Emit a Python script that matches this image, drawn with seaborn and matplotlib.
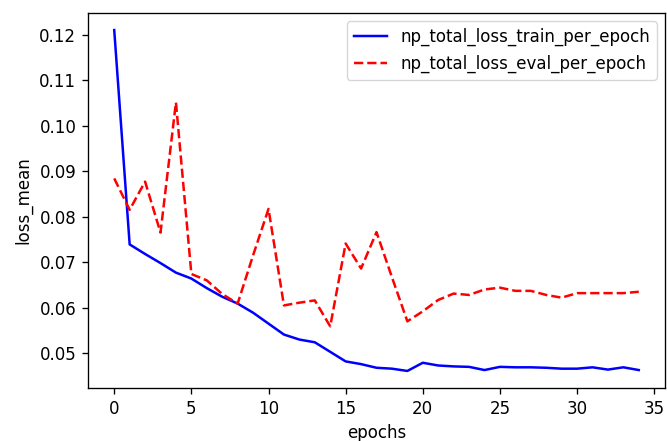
import matplotlib
matplotlib.use("Agg")
import matplotlib.pyplot as plt
import seaborn as sns
import numpy as np

epochs = list(range(35))
train_loss = [0.121, 0.0739, 0.0718, 0.0698, 0.0677, 0.0664, 0.0643, 0.0624, 0.0609, 0.0589,
              0.0565, 0.0541, 0.0530, 0.0524, 0.0503, 0.0482, 0.0476, 0.0468, 0.0466, 0.0461,
              0.0479, 0.0473, 0.0471, 0.0470, 0.0463, 0.0470, 0.0469, 0.0469, 0.0468, 0.0466,
              0.0466, 0.0469, 0.0464, 0.0469, 0.0463]
eval_loss = [0.0884, 0.0815, 0.0877, 0.0765, 0.1051, 0.0674, 0.0660, 0.0630, 0.0609, 0.0715,
             0.0817, 0.0605, 0.0611, 0.0616, 0.0559, 0.0741, 0.0686, 0.0766, 0.0667, 0.0570,
             0.0592, 0.0617, 0.0631, 0.0628, 0.0640, 0.0644, 0.0637, 0.0637, 0.0628, 0.0622,
             0.0632, 0.0632, 0.0632, 0.0632, 0.0635]
train_label = "np_total_loss_train_per_epoch"
eval_label = "np_total_loss_eval_per_epoch"

s = 1.2
plt.rcParams['font.family'] = ['DejaVu Sans']
plt.rcParams.update({
    'font.size': 10 * s,
    'axes.linewidth': 0.8 * s,
    'xtick.major.size': 3.5 * s,
    'ytick.major.size': 3.5 * s,
    'xtick.major.width': 0.8 * s,
    'ytick.major.width': 0.8 * s,
    'xtick.major.pad': 3.5 * s,
    'ytick.major.pad': 3.5 * s,
    'axes.labelpad': 4.0 * s,
})
fig = plt.figure(figsize=(6.67, 4.41), dpi=100)
ax = fig.add_axes([88/667, 53/441, (665-88)/667, (388-13)/441])

sns.lineplot(x=epochs, y=train_loss, ax=ax, color="b", linestyle="-", label=train_label, linewidth=1.5 * s)
sns.lineplot(x=epochs, y=eval_loss, ax=ax, color="r", linestyle="--", label=eval_label, linewidth=1.5 * s)

ax.set_xlabel("epochs")
ax.set_ylabel("loss_mean")
ax.set_xticks([0, 5, 10, 15, 20, 25, 30, 35])
ax.set_xlim(-1.7, 35.7)
ax.set_yticks([0.05, 0.06, 0.07, 0.08, 0.09, 0.10, 0.11, 0.12])
ax.legend(loc="upper right")

fig.savefig("out.png", dpi=100)
